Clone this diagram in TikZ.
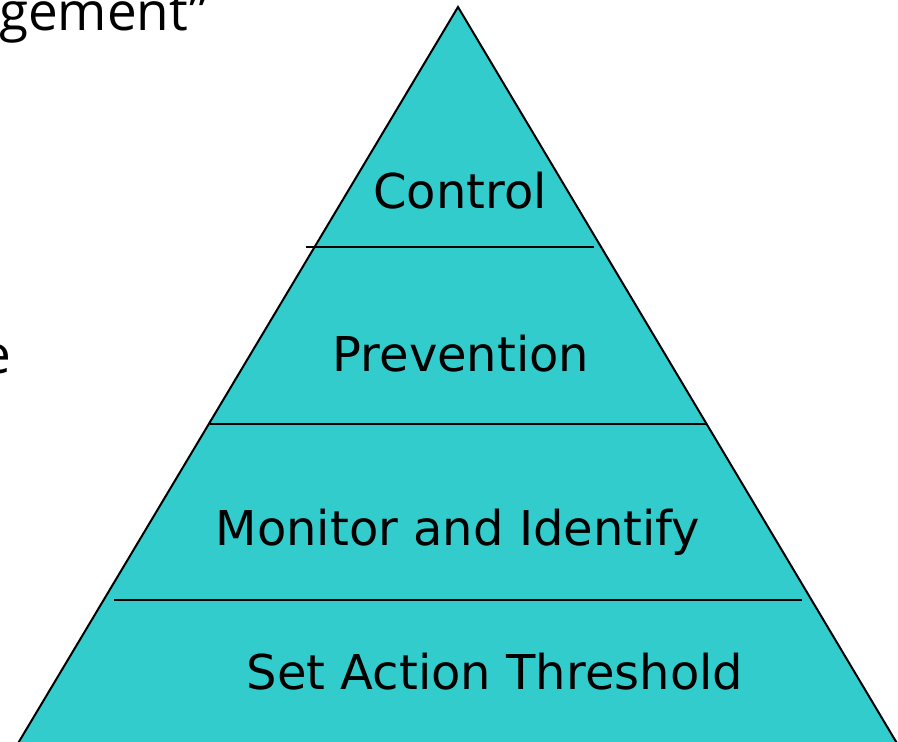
\documentclass[tikz,border=0pt]{standalone}
\usepackage{fontspec}
\setmainfont{DejaVu Sans}
\newfontfamily\sidefont{Open Sans}
\definecolor{pyrfill}{HTML}{33CCCC}
\begin{document}
\begin{tikzpicture}[x=1bp,y=-1bp,
  lvl/.style={anchor=base,inner sep=0pt,font=\fontsize{48bp}{58bp}\selectfont},
  side/.style={inner sep=0pt,font=\sidefont\fontsize{53bp}{63bp}\selectfont},
  sep/.style={line width=1.8bp}]
\useasboundingbox (0,0) rectangle (898,742);
\begin{scope}
\clip (0,0) rectangle (898,742);
\coordinate (apex) at (458,7);
\coordinate (bl) at (14,750);
\coordinate (br) at (901,750);
\fill[pyrfill] (bl) -- (apex) -- (br) -- cycle;
\draw[line width=2bp,line join=miter] (bl) -- (apex) -- (br);
\end{scope}
\coordinate (l1a) at (306,247); \coordinate (l1b) at (594,247);
\coordinate (l2a) at (210,424); \coordinate (l2b) at (707,424);
\coordinate (l3a) at (114,600); \coordinate (l3b) at (802,600);
\draw[sep] (l1a) -- (l1b);
\draw[sep] (l2a) -- (l2b);
\draw[sep] (l3a) -- (l3b);
\node[lvl] (ctrl) at (460,208) {Control};
\node[lvl] (prev) at (461,371) {Prevention};
\node[lvl] (mon) at (458,545) {Monitor and Identify};
\node[lvl] (sat) at (495,689) {Set Action Threshold};
\node[side,anchor=base east] (t1) at (208,31) {gement”};
\node[side,anchor=base east] (t2) at (11,373) {e};
\end{tikzpicture}
\end{document}
